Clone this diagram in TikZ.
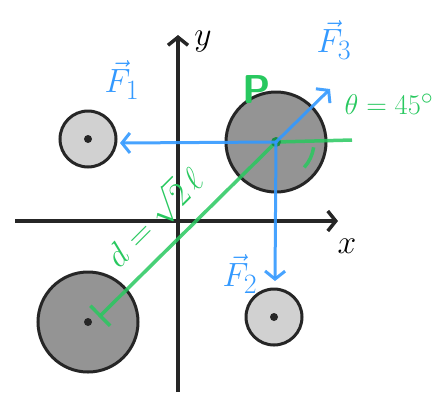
\documentclass[tikz,border=0pt]{standalone}
\usepackage{amsmath}
\usepackage{tikz}
\usetikzlibrary{arrows.meta, positioning}
\definecolor{forceblue}{RGB}{51,153,255}
\definecolor{distgreen}{RGB}{40,200,95}

\begin{document}
\begin{tikzpicture}[
  x=1pt, y=-1pt,
  font=\Huge,
  ball/.style={circle, draw=black!85, line width=3pt, inner sep=0pt},
  bigball/.style={ball, fill=black!42, minimum size=100pt},
  smallball/.style={ball, fill=black!18, minimum size=56pt},
  centre/.style={circle, fill=black!85, minimum size=8pt, inner sep=0pt},
  axis/.style={line width=3.5pt, black!85, -{Straight Barb[length=8pt,width=20pt]}},
  force/.style={line width=3pt, forceblue, opacity=0.9, -{Straight Barb[length=8pt,width=20pt]}},
  dist/.style={line width=3.5pt, distgreen, opacity=0.85},
  txt/.style={inner sep=1pt, transform shape, scale=1.35},
  flabel/.style={txt, forceblue},
  glabel/.style={txt, distgreen},
]
  \useasboundingbox (0,0) rectangle (438,392);

  % --- axes ---
  \coordinate (xstart) at (15,221);
  \coordinate (xend) at (338,221);
  \coordinate (ystart) at (178,392);
  \coordinate (yend) at (178,35);
  \draw[axis] (xstart) -- (xend);
  \draw[axis] (ystart) -- (yend);
  \node[txt] (xlab) at (347,246) {$x$};
  \node[txt] (ylab) at (203,42) {$y$};

  % --- balls ---
  \node[bigball] (P) at (276,142) {};
  \node[bigball] (B) at (88,322) {};
  \node[smallball] (S1) at (88,139) {};
  \node[smallball] (S2) at (274,317) {};
  \node[centre] (Bc) at (B) {};
  \node[centre] (S1c) at (S1) {};
  \node[centre] (S2c) at (S2) {};

  % --- distance and angle ---
  \coordinate (Dend) at (99,317);
  \coordinate (Href) at (352,140);
  \draw[dist, -{Bar[width=28pt]}] (P.center) -- (Dend);
  \draw[dist] (P.center) -- (Href);
  \draw[dist] (P.center) ++(8:38) arc[start angle=8, end angle=42, radius=38];
  \node[circle, fill=distgreen!70!black, minimum size=10pt, inner sep=0pt] (Pc) at (P) {};

  % --- forces ---
  \coordinate (F1end) at (120,143);
  \coordinate (F2end) at (275,281);
  \coordinate (F3end) at (330,89);
  \draw[force] (P.center) -- (F1end);
  \draw[force] (P.center) -- (F2end);
  \draw[force] (P.center) -- (F3end);

  % --- labels ---
  \node[flabel] (F1lab) at (122,80) {$\vec{F}_1$};
  \node[flabel] (F2lab) at (240,274) {$\vec{F}_2$};
  \node[flabel] (F3lab) at (334,40) {$\vec{F}_3$};
  \node[glabel, font=\Huge\bfseries\sffamily, scale=1.2] (Plab) at (257,90) {P};
  \node[glabel, scale=0.85] (thlab) at (389,104) {$\theta=45^\circ$};
  \node[glabel, rotate=45] (dlab) at (154,217) {$d=\sqrt{2}\,\ell$};
\end{tikzpicture}
\end{document}
